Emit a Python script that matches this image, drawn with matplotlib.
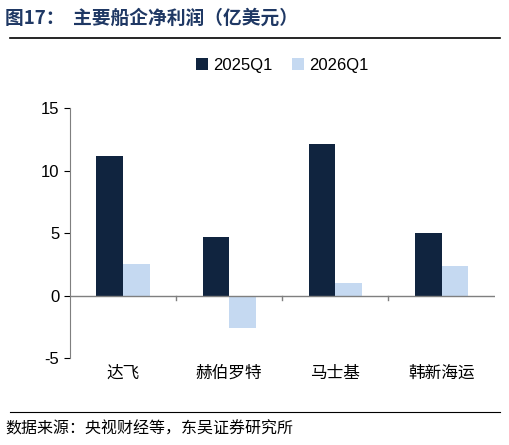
import matplotlib.pyplot as plt
import numpy as np

plt.rcParams['font.family'] = ['Liberation Sans', 'Noto Sans CJK SC', 'DejaVu Sans']
plt.rcParams['axes.unicode_minus'] = False

companies = ['达飞', '赫伯罗特', '马士基', '韩新海运']
q1_2025 = [11.2, 4.7, 12.1, 5.0]
q1_2026 = [2.5, -2.6, 1.0, 2.4]

dark = '#10243f'
light = '#c5d9f1'
cjk = ['Noto Sans CJK SC', 'DejaVu Sans']

fig = plt.figure(figsize=(5.1, 4.45), dpi=100)
ax = fig.add_axes([0.137, 0.195, 0.833, 0.562])

x = np.arange(len(companies))
w = 0.25
ax.bar(x - w / 2, q1_2025, w, color=dark, label='2025Q1')
ax.bar(x + w / 2, q1_2026, w, color=light, label='2026Q1')

ax.set_xlim(-0.5, len(companies) - 0.5)
ax.set_ylim(-5, 15)
ax.set_yticks([-5, 0, 5, 10, 15])
ax.tick_params(axis='y', labelsize=12, direction='out', length=4)
for s in ['top', 'right', 'bottom']:
    ax.spines[s].set_visible(False)
ax.axhline(0, color='#7f7f7f', lw=1)
ax.spines['left'].set_color('#7f7f7f')

# category separators below the zero line
ax.set_xticks([])
for b in np.arange(0.5, len(companies) - 0.5, 1):
    ax.plot([b, b], [0, -0.35], color='#7f7f7f', lw=1, clip_on=False)
for i, c in enumerate(companies):
    ax.text(i, -6.2, c, ha='center', va='center', fontsize=12, family=cjk)

ax.legend(loc='lower center', bbox_to_anchor=(0.5, 1.08), ncol=2, frameon=False,
          fontsize=12, handlelength=0.7, handleheight=0.7, columnspacing=1.2,
          handletextpad=0.3)

fig.text(0.01, 0.96, '图17：  主要船企净利润（亿美元）', fontsize=13.5, fontweight='bold',
         color='#1f3864', va='center', family=cjk)
fig.add_artist(plt.Line2D([0.02, 0.98], [0.915, 0.915], color='black', lw=1.2))
fig.add_artist(plt.Line2D([0.02, 0.98], [0.075, 0.075], color='black', lw=0.8))
fig.text(0.01, 0.035, '数据来源：央视财经等，东吴证券研究所', fontsize=11.5, va='center',
         family=cjk)

fig.savefig('out.png', dpi=100)
